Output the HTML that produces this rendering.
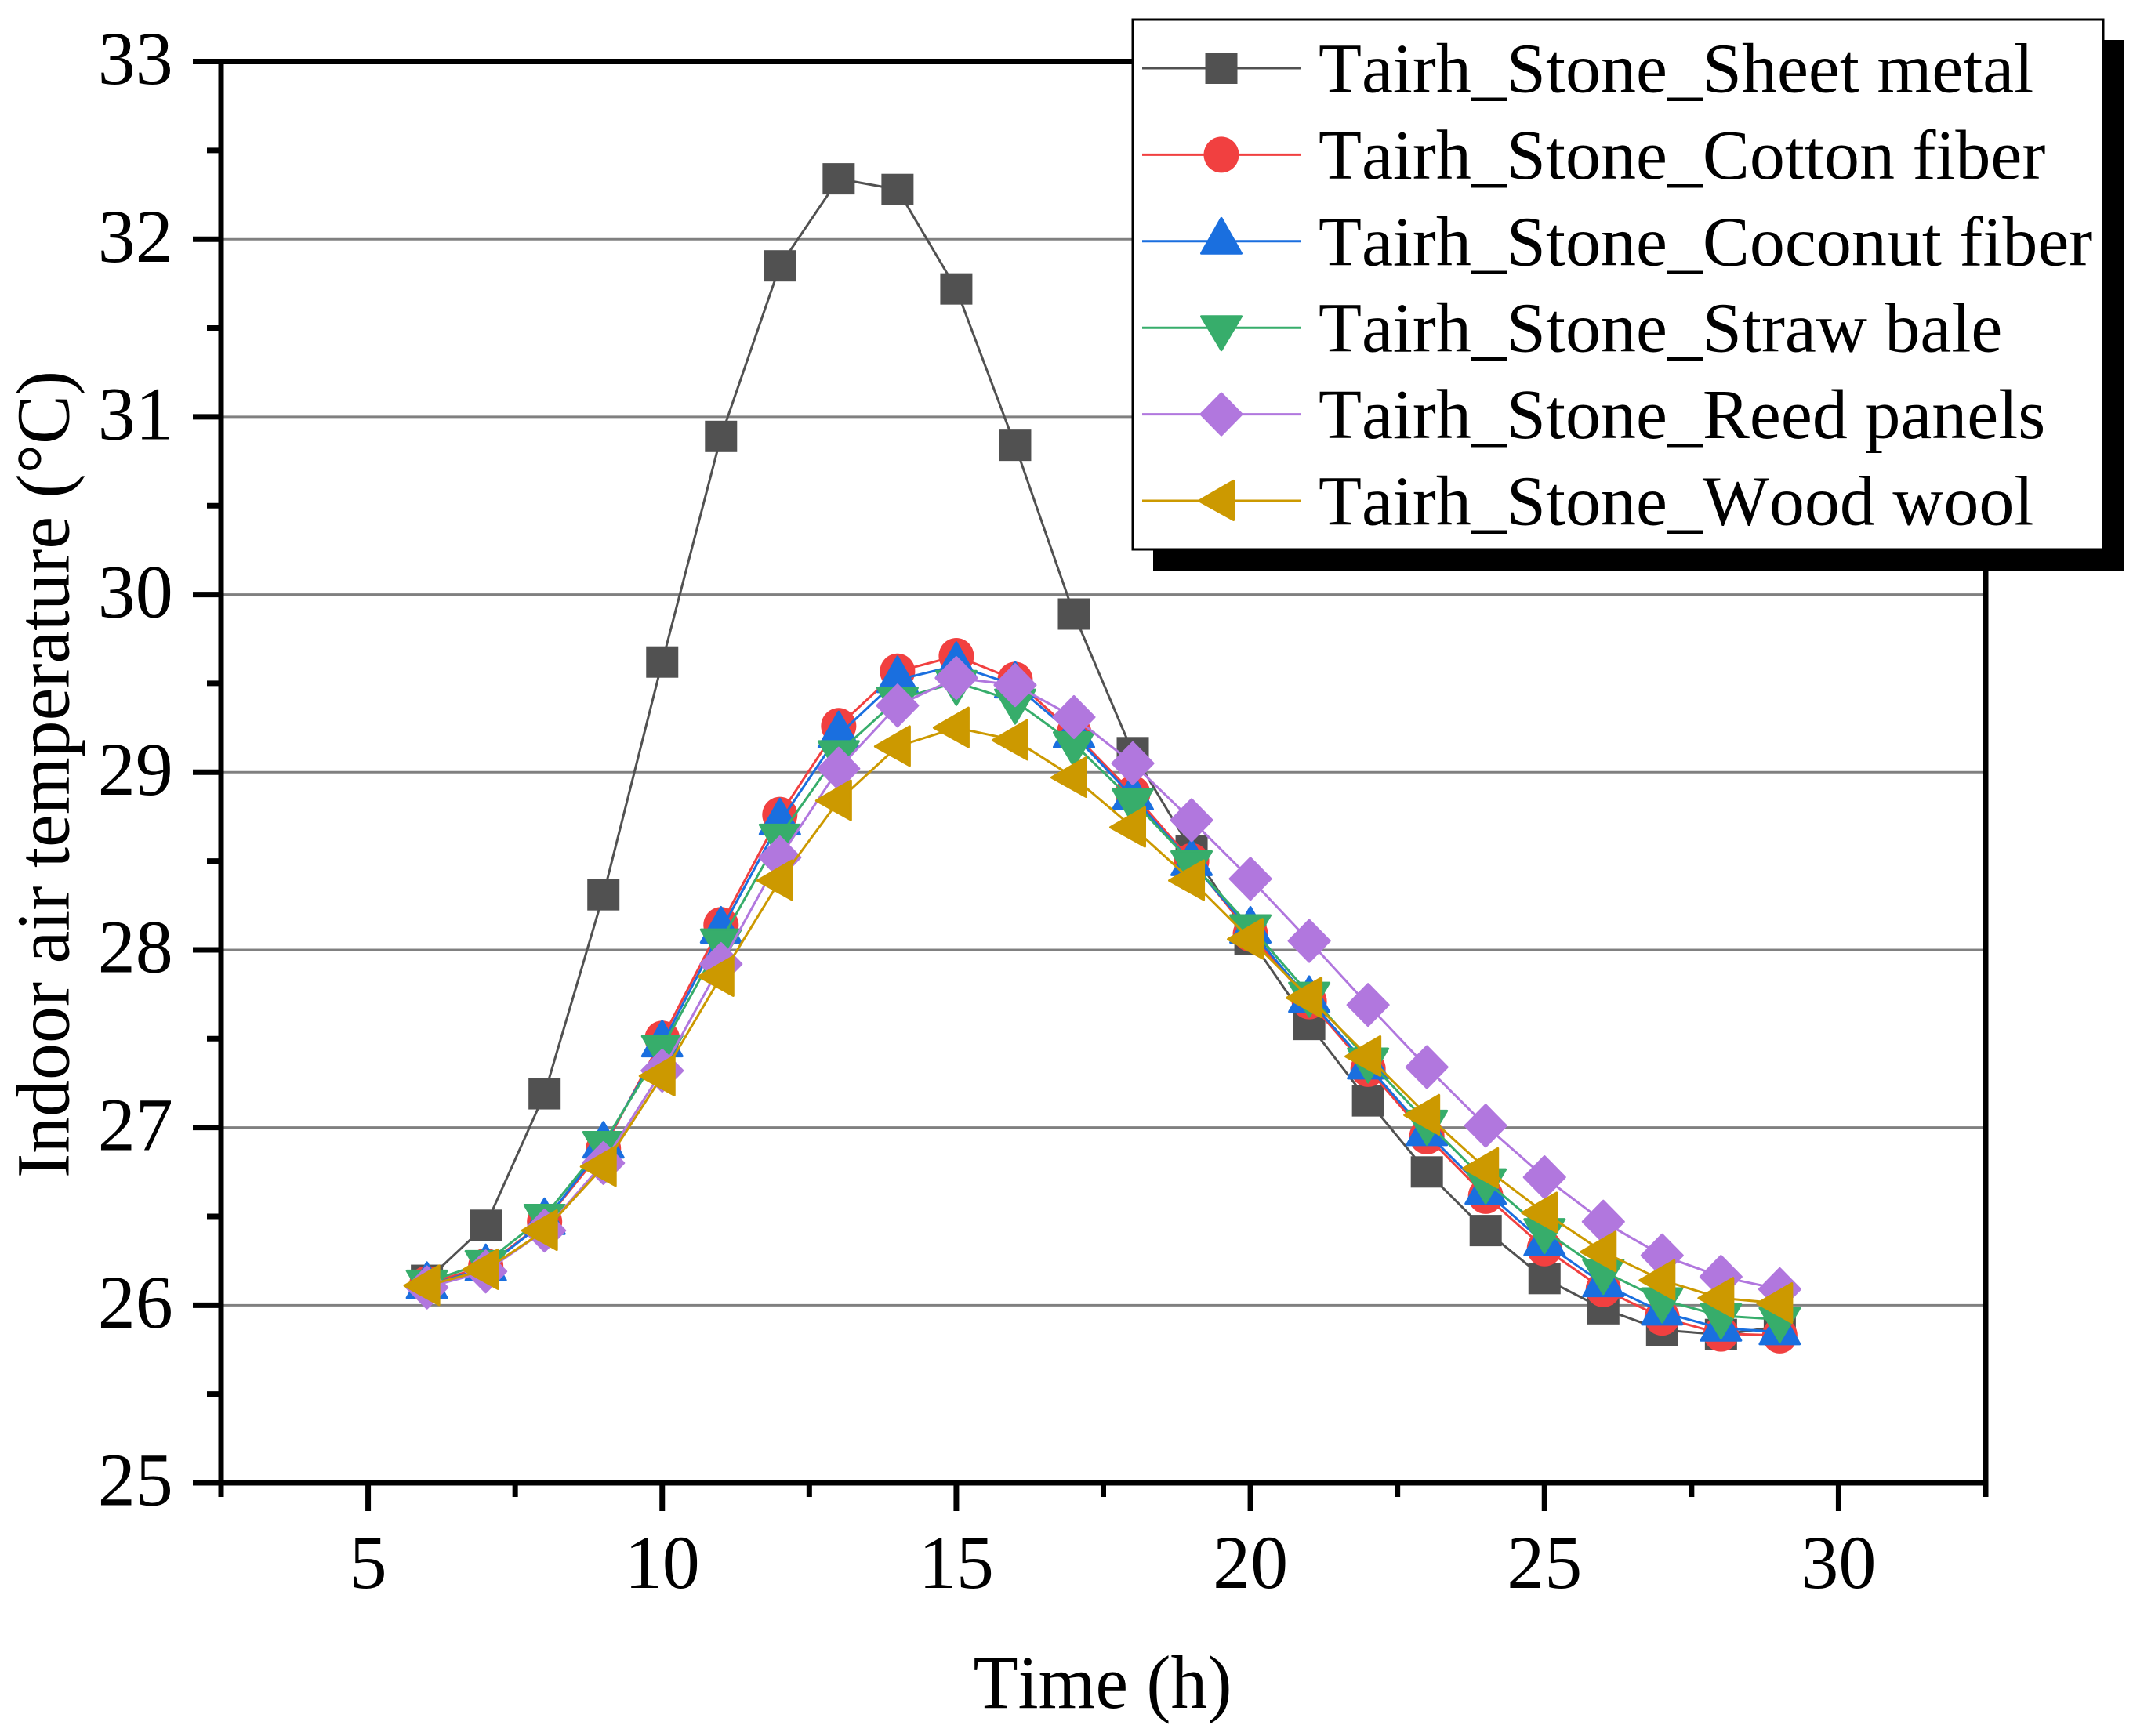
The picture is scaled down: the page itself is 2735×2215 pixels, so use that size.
<!DOCTYPE html>
<html lang="en">
<head>
<meta charset="utf-8">
<title>Indoor air temperature chart</title>
<style>
html,body{margin:0;padding:0;background:#fff;width:2735px;height:2215px;overflow:hidden}
svg{display:block}
text{font-family:"Liberation Serif","Times New Roman",serif;fill:#000;font-kerning:none}
</style>
</head>
<body>
<svg id="chart" xmlns="http://www.w3.org/2000/svg" width="2735" height="2215" viewBox="0 0 2735 2215">
  <rect x="0" y="0" width="2735" height="2215" fill="#fff"/>
  <g id="grid"></g>
  <g id="series"></g>
  <g id="axes"></g>
  <text x="1406.5" y="2179" font-size="96" text-anchor="middle" textLength="330" lengthAdjust="spacingAndGlyphs">Time (h)</text>
  <text transform="translate(87.5 988) rotate(-90)" font-size="96" text-anchor="middle" textLength="1030" lengthAdjust="spacingAndGlyphs">Indoor air temperature (°C)</text>
  <g id="legend">
    <rect x="1471" y="51" width="1238" height="677" fill="#000"/>
    <rect x="1445" y="25" width="1238" height="676" fill="#fff" stroke="#000" stroke-width="3"/>
  </g>
</svg>
<script>
const hours = [6,7,8,9,10,11,12,13,14,15,16,17,18,19,20,21,22,23,24,25,26,27,28,29];
const sheetMetal = [26.14,26.45,27.19,28.31,29.62,30.89,31.85,32.34,32.28,31.72,30.84,29.89,29.11,28.56,28.06,27.58,27.15,26.75,26.42,26.15,25.98,25.86,25.835,25.88];
const cottonFiber = [26.12,26.22,26.47,26.88,27.50,28.14,28.76,29.26,29.567,29.654,29.52,29.22,28.88,28.50,28.09,27.71,27.33,26.95,26.615,26.32,26.09,25.93,25.84,25.83];
const coconutFiber = [26.11,26.21,26.47,26.90,27.47,28.11,28.72,29.21,29.52,29.60,29.49,29.21,28.86,28.49,28.11,27.72,27.345,26.97,26.64,26.35,26.12,25.96,25.87,25.85];
const strawBale = [26.13,26.24,26.50,26.91,27.45,28.05,28.64,29.11,29.41,29.505,29.40,29.16,28.84,28.49,28.13,27.75,27.38,27.03,26.70,26.42,26.19,26.03,25.94,25.92];
const reedPanels = [26.10,26.19,26.42,26.80,27.32,27.92,28.52,29.02,29.375,29.53,29.49,29.31,29.05,28.73,28.40,28.05,27.69,27.34,27.01,26.72,26.47,26.28,26.16,26.09];
const woodWool = [26.11,26.20,26.42,26.78,27.29,27.85,28.39,28.84,29.145,29.25,29.18,28.97,28.69,28.39,28.06,27.73,27.40,27.07,26.77,26.52,26.30,26.14,26.04,26.01];
const seriesNames = ["Tairh_Stone_Sheet metal","Tairh_Stone_Cotton fiber","Tairh_Stone_Coconut fiber","Tairh_Stone_Straw bale","Tairh_Stone_Reed panels","Tairh_Stone_Wood wool"];
const xTickLabels = [5,10,15,20,25,30];
const xMinorTicks = [2.5,7.5,12.5,17.5,22.5,27.5,32.5];
const yTickLabels = [25,26,27,28,29,30,31,32,33];
const yMinorTicks = [25.5,26.5,27.5,28.5,29.5,30.5,31.5,32.5];

const allSeries = [sheetMetal,cottonFiber,coconutFiber,strawBale,reedPanels,woodWool];
const colors = ["#515151","#F14040","#1A6FDF","#37AD6B","#B177DE","#CC9900"];
const shapes = ["square","circle","up","down","diamond","left"];
const NS = "http://www.w3.org/2000/svg";
const xMin = 2.5, xMax = 32.5, yMin = 25, yMax = 33;
const pxLeft = 282, pxRight = 2533, pxTop = 78.5, pxBottom = 1892;
function X(v){ return pxLeft + (v - xMin) * (pxRight - pxLeft) / (xMax - xMin); }
function Y(v){ return pxBottom - (v - yMin) * (pxBottom - pxTop) / (yMax - yMin); }

function make(tag, attrs, parent){
  const e = document.createElementNS(NS, tag);
  for (const k in attrs) e.setAttribute(k, attrs[k]);
  parent.appendChild(e);
  return e;
}
function slug(name){ return name.replace("Tairh_Stone_","").toLowerCase().replace(/\s+/g,"-"); }
function marker(shape, cx, cy, color, parent){
  if (shape === "square") return make("rect",{x:cx-20.5,y:cy-20,width:41,height:40,fill:color},parent);
  if (shape === "circle") return make("ellipse",{cx:cx,cy:cy,rx:22.5,ry:23,fill:color},parent);
  const pts = {
    up:[[0,-29.5],[25.5,15.5],[-25.5,15.5]],
    down:[[0,28.5],[25.5,-14.5],[-25.5,-14.5]],
    diamond:[[0,-26.5],[26,0],[0,26.5],[-26,0]],
    left:[[-28.5,0],[15.5,-25.5],[15.5,24.5]]
  }[shape];
  return make("polygon",{
    points:pts.map(p=>(cx+p[0])+","+(cy+p[1])).join(" "),
    fill:color,stroke:color,"stroke-width":3,"stroke-linejoin":"round"
  },parent);
}

const gridG = document.getElementById("grid");
yTickLabels.forEach(function(v){
  if (v === yMin || v === yMax) return;
  const g = make("line",{x1:X(xMin),x2:X(xMax),y1:Y(v),y2:Y(v),stroke:"#808080","stroke-width":3},gridG);
  
  
});

const seriesG = document.getElementById("series");
allSeries.forEach(function(vals,i){
  const g = make("g",{},seriesG);
  
  
  const line = make("polyline",{
    points:vals.map((v,j)=>X(hours[j])+","+Y(v)).join(" "),
    fill:"none",stroke:colors[i],"stroke-width":3,"stroke-linejoin":"round"
  },g);
  
  
  vals.forEach(function(v,j){
    const m = marker(shapes[i],X(hours[j]),Y(v),colors[i],g);
    
    
  });
});

const axesG = document.getElementById("axes");
const AW = 7, majorLen = 36, minorLen = 18;
const spines = [
  ["y-axis-line",pxLeft,pxTop-3.5,pxLeft,pxBottom+minorLen],
  ["x-axis-line",pxLeft-majorLen,pxBottom,pxRight+3.5,pxBottom],
  ["top-axis-line",pxLeft-majorLen,pxTop,pxRight+3.5,pxTop],
  ["right-axis-line",pxRight,pxTop-3.5,pxRight,pxBottom+minorLen]
];
spines.forEach(function(s){
  const l = make("line",{x1:s[1],y1:s[2],x2:s[3],y2:s[4],stroke:"#000","stroke-width":AW},axesG);
  
  
});
yTickLabels.forEach(function(v){
  const t = make("line",{x1:pxLeft-majorLen,x2:pxLeft,y1:Y(v),y2:Y(v),stroke:"#000","stroke-width":AW},axesG);
  
  
  const lb = make("text",{x:220.7,y:Y(v)+28.7,"font-size":96,"text-anchor":"end"},axesG);
  lb.textContent = v;
  
  
});
yMinorTicks.forEach(function(v){
  const t = make("line",{x1:pxLeft-minorLen,x2:pxLeft,y1:Y(v),y2:Y(v),stroke:"#000","stroke-width":AW},axesG);
  
  
});
xTickLabels.forEach(function(v){
  const t = make("line",{x1:X(v),x2:X(v),y1:pxBottom,y2:pxBottom+majorLen,stroke:"#000","stroke-width":AW},axesG);
  
  
  const lb = make("text",{x:X(v),y:2026,"font-size":96,"text-anchor":"middle"},axesG);
  lb.textContent = v;
  
  
});
xMinorTicks.forEach(function(v){
  const t = make("line",{x1:X(v),x2:X(v),y1:pxBottom,y2:pxBottom+minorLen,stroke:"#000","stroke-width":AW},axesG);
  
  
});

const legendG = document.getElementById("legend");
seriesNames.forEach(function(name,i){
  const cy = 87 + i * 110.4;
  const g = make("g",{},legendG);
  
  
  const l = make("line",{x1:1457,x2:1660,y1:cy,y2:cy,stroke:colors[i],"stroke-width":3},g);
  
  
  const m = marker(shapes[i],1558,cy,colors[i],g);
  
  
  const t = make("text",{x:1682,y:cy+30.5,"font-size":90},g);
  t.textContent = name;
  
  
});
</script>
</body>
</html>
